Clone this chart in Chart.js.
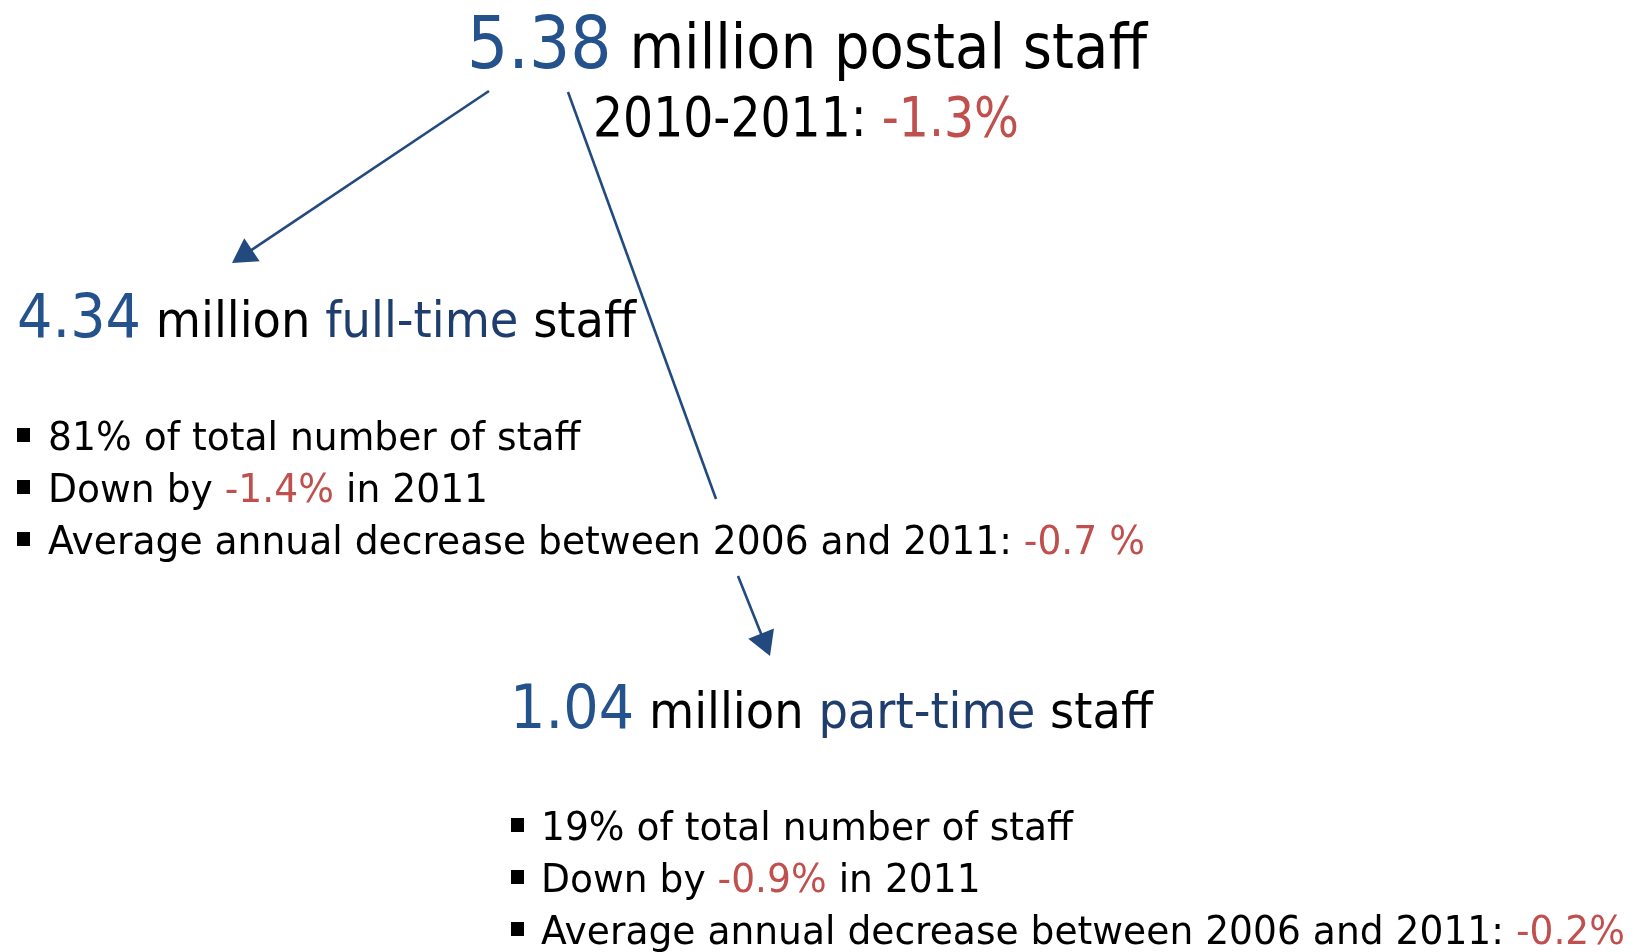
<!DOCTYPE html>
<html>
<head>
<meta charset="utf-8">
<title>Postal staff 2011</title>
<script src="https://cdn.jsdelivr.net/npm/chart.js@4/dist/chart.umd.min.js"></script>
<style>
  html, body { margin: 0; padding: 0; background: #ffffff; }
  canvas { display: block; }
</style>
</head>
<body>
<canvas id="staff-chart" width="1639" height="952"></canvas>
<script>
// staff numbers, millions
var totalStaff = 5.38;
var totalChange = -1.3;          // 2010-2011, %
var groupNames = ['full-time', 'part-time'];
var groupStaff = [4.34, 1.04];
var groupShare = [81, 19];       // % of total staff
var groupChange2011 = [-1.4, -0.9];
var groupAvgChange = [-0.7, -0.2]; // average annual, 2006-2011
var avgSuffix = [' %', '%'];

var W = 1639, H = 952;
var BLUE_NUM = '#24528c';
var BLUE_WORD = '#1f3e6e';
var RED = '#c0504d';
var ARROW = '#234a7f';
var FONT = '"DejaVu Sans", sans-serif';

// connectors from the total down to each group (canvas units)
var connectors = [
  { pts: [[489, 91], [232, 263]], head: true },
  { pts: [[568, 92], [716, 499]], head: false },
  { pts: [[738, 576], [770, 656]], head: true }
];
var HEAD_R = 16;

function connectorDataset(c) {
  var a = c.pts[0], b = c.pts[1];
  var dx = b[0] - a[0], dy = b[1] - a[1];
  var len = Math.sqrt(dx * dx + dy * dy);
  var end = b;
  var rot = 0;
  if (c.head) {
    // triangle centre sits one radius back from the tip
    end = [b[0] - dx / len * HEAD_R, b[1] - dy / len * HEAD_R];
    rot = Math.atan2(dx, -dy) * 180 / Math.PI;
  }
  return {
    type: 'line',
    data: [{ x: a[0], y: a[1] }, { x: end[0], y: end[1] }],
    borderColor: ARROW,
    borderWidth: 2.6,
    pointStyle: 'triangle',
    pointRadius: [0, c.head ? HEAD_R : 0],
    pointRotation: [0, rot],
    pointBackgroundColor: ARROW,
    pointBorderWidth: 0,
    showLine: true,
    fill: false
  };
}

function runWidth(ctx, runs) {
  var w = 0;
  runs.forEach(function (r) {
    ctx.font = r.size + 'px ' + FONT;
    w += ctx.measureText(r.text).width;
  });
  return w;
}

function drawRuns(ctx, x, y, runs, k) {
  ctx.save();
  ctx.translate(x, y);
  ctx.scale(k, 1);
  ctx.textBaseline = 'alphabetic';
  ctx.textAlign = 'left';
  var cx = 0;
  runs.forEach(function (r) {
    ctx.font = r.size + 'px ' + FONT;
    ctx.fillStyle = r.color;
    ctx.fillText(r.text, cx, 0);
    cx += ctx.measureText(r.text).width;
  });
  ctx.restore();
}

function fitRuns(ctx, x, y, runs, right) {
  drawRuns(ctx, x, y, runs, (right - x) / runWidth(ctx, runs));
}

var BULLET_SIZE = 39;

function groupBullets(i) {
  return [
    [{ text: groupShare[i] + '% of total number of staff', color: '#000', size: BULLET_SIZE }],
    [{ text: 'Down by ', color: '#000', size: BULLET_SIZE },
     { text: groupChange2011[i].toFixed(1) + '%', color: RED, size: BULLET_SIZE },
     { text: ' in 2011', color: '#000', size: BULLET_SIZE }],
    [{ text: 'Average annual decrease between 2006 and 2011: ', color: '#000', size: BULLET_SIZE },
     { text: groupAvgChange[i].toFixed(1) + avgSuffix[i], color: RED, size: BULLET_SIZE }]
  ];
}

// text block placement (canvas units)
var layout = {
  title: { x: 467, y: 68, right: 1147 },
  sub: { x: 593, y: 136, right: 1019 },
  groups: [
    { x: 17, y: 337, right: 636, bulletX: 17, textX: 48, lines: [450, 502, 554], longRight: 1145 },
    { x: 510, y: 728, right: 1153, bulletX: 511, textX: 541, lines: [840, 892, 944], longRight: 1625 }
  ]
};

var textPlugin = {
  id: 'staffText',
  afterDatasetsDraw: function (chart) {
    var ctx = chart.ctx;
    var sx = chart.scales.x, sy = chart.scales.y;
    function px(v) { return sx.getPixelForValue(v); }
    function py(v) { return sy.getPixelForValue(v); }

    var t = layout.title;
    fitRuns(ctx, px(t.x), py(t.y), [
      { text: totalStaff.toFixed(2), color: BLUE_NUM, size: 73 },
      { text: ' million postal staff', color: '#000', size: 63 }
    ], px(t.right));

    var s = layout.sub;
    fitRuns(ctx, px(s.x), py(s.y), [
      { text: '2010-2011: ', color: '#000', size: 55 },
      { text: totalChange.toFixed(1) + '%', color: RED, size: 55 }
    ], px(s.right));

    layout.groups.forEach(function (g, i) {
      fitRuns(ctx, px(g.x), py(g.y), [
        { text: groupStaff[i].toFixed(2), color: BLUE_NUM, size: 60 },
        { text: ' million ', color: '#000', size: 50 },
        { text: groupNames[i], color: BLUE_WORD, size: 50 },
        { text: ' staff', color: '#000', size: 50 }
      ], px(g.right));

      var lines = groupBullets(i);
      var k = (px(g.longRight) - px(g.textX)) / runWidth(ctx, lines[2]);
      lines.forEach(function (runs, j) {
        var base = py(g.lines[j]);
        ctx.fillStyle = '#000';
        ctx.fillRect(px(g.bulletX), base - 22, 13, 14);
        drawRuns(ctx, px(g.textX), base, runs, k);
      });
    });
  }
};

var chart = new Chart(document.getElementById('staff-chart').getContext('2d'), {
  type: 'scatter',
  data: { datasets: connectors.map(connectorDataset) },
  options: {
    responsive: false,
    devicePixelRatio: 1,
    animation: false,
    events: [],
    layout: { padding: 0, autoPadding: false },
    plugins: { legend: { display: false }, tooltip: { enabled: false } },
    scales: {
      x: { type: 'linear', min: 0, max: W, display: false },
      y: { type: 'linear', min: 0, max: H, reverse: true, display: false }
    }
  },
  plugins: [textPlugin]
});
</script>
</body>
</html>
